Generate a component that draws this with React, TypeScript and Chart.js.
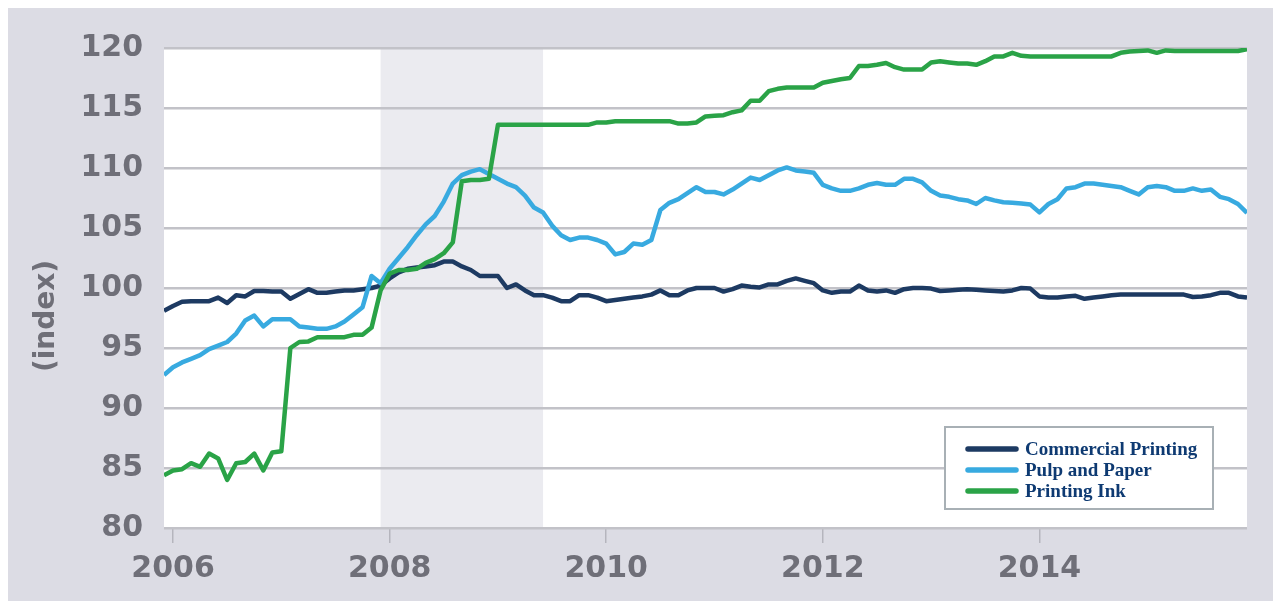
import React, { useEffect, useRef } from 'react';
import { Chart, registerables } from 'chart.js';

Chart.register(...registerables);

// Monthly index values, Dec 2005 .. Dec 2015
const START_YEAR = 2005;
const START_MONTH = 12;

const commercialPrinting = [
  98.1, 98.5, 98.85, 98.9, 98.9, 98.9, 99.2, 98.75, 99.4, 99.3,
  99.75, 99.75, 99.7, 99.7, 99.1, 99.5, 99.9, 99.6, 99.6, 99.7,
  99.8, 99.8, 99.9, 100.0, 100.2, 100.8, 101.3, 101.6, 101.7, 101.8,
  101.9, 102.2, 102.2, 101.8, 101.5, 101.0, 101.0, 101.0, 100.0, 100.3,
  99.8, 99.4, 99.4, 99.2, 98.9, 98.9, 99.4, 99.4, 99.2, 98.9,
  99.0, 99.1, 99.2, 99.3, 99.45, 99.8, 99.4, 99.4, 99.8, 100.0,
  100.0, 100.0, 99.7, 99.9, 100.2, 100.1, 100.05, 100.3, 100.3, 100.6,
  100.8, 100.6, 100.4, 99.8, 99.6, 99.7, 99.7, 100.2, 99.8, 99.7,
  99.8, 99.6, 99.9, 100.0, 100.0, 99.95, 99.75, 99.8, 99.85, 99.9,
  99.85, 99.8, 99.75, 99.7, 99.8, 100.0, 99.95, 99.3, 99.2, 99.2,
  99.3, 99.35, 99.1, 99.2, 99.3, 99.4, 99.45, 99.45, 99.45, 99.45,
  99.45, 99.45, 99.45, 99.45, 99.25, 99.3, 99.4, 99.6, 99.6, 99.3,
  99.2,
];

const pulpAndPaper = [
  92.75, 93.4, 93.8, 94.1, 94.4, 94.9, 95.2, 95.5, 96.2, 97.3,
  97.7, 96.8, 97.4, 97.4, 97.4, 96.8, 96.7, 96.6, 96.6, 96.8,
  97.2, 97.8, 98.4, 101.0, 100.4, 101.6, 102.5, 103.4, 104.4, 105.3,
  106.0, 107.2, 108.7, 109.4, 109.7, 109.9, 109.5, 109.1, 108.7, 108.4,
  107.7, 106.7, 106.3, 105.2, 104.4, 104.0, 104.2, 104.2, 104.0, 103.7,
  102.8, 103.0, 103.7, 103.6, 104.0, 106.5, 107.1, 107.4, 107.9, 108.4,
  108.0, 108.0, 107.8, 108.2, 108.7, 109.2, 109.0, 109.4, 109.8, 110.05,
  109.8, 109.7, 109.6, 108.6, 108.3, 108.1, 108.1, 108.3, 108.6, 108.75,
  108.6, 108.6, 109.1, 109.1, 108.8, 108.1, 107.7, 107.6, 107.4, 107.3,
  107.0, 107.5, 107.3, 107.15, 107.1, 107.05, 106.95, 106.3, 107.0, 107.4,
  108.3, 108.4, 108.7, 108.7, 108.6, 108.5, 108.4, 108.1, 107.8, 108.4,
  108.5, 108.4, 108.1, 108.1, 108.3, 108.1, 108.2, 107.6, 107.4, 107.0,
  106.25,
];

const printingInk = [
  84.4, 84.8, 84.9, 85.4, 85.1, 86.2, 85.8, 84.0, 85.4, 85.5,
  86.2, 84.8, 86.3, 86.4, 95.0, 95.5, 95.55, 95.9, 95.9, 95.9,
  95.9, 96.1, 96.1, 96.7, 99.8, 101.2, 101.5, 101.5, 101.6, 102.1,
  102.4, 102.9, 103.8, 108.9, 109.0, 109.0, 109.1, 113.6, 113.6, 113.6,
  113.6, 113.6, 113.6, 113.6, 113.6, 113.6, 113.6, 113.6, 113.8, 113.8,
  113.9, 113.9, 113.9, 113.9, 113.9, 113.9, 113.9, 113.7, 113.7, 113.8,
  114.3, 114.35, 114.4, 114.65, 114.8, 115.6, 115.6, 116.4, 116.6, 116.7,
  116.7, 116.7, 116.7, 117.1, 117.25, 117.4, 117.5, 118.5, 118.5, 118.6,
  118.75, 118.4, 118.2, 118.2, 118.2, 118.8, 118.9, 118.8, 118.7, 118.7,
  118.6, 118.9, 119.3, 119.3, 119.6, 119.35, 119.3, 119.3, 119.3, 119.3,
  119.3, 119.3, 119.3, 119.3, 119.3, 119.3, 119.6, 119.7, 119.75, 119.8,
  119.6, 119.8, 119.75, 119.75, 119.75, 119.75, 119.75, 119.75, 119.75, 119.75,
  119.9,
];

const seriesNames = ['Commercial Printing', 'Pulp and Paper', 'Printing Ink'];
const seriesColors = ['#1d3a62', '#38aae0', '#2aa347'];

const xTickYears = [2006, 2008, 2010, 2012, 2014];
const yMin = 80;
const yMax = 120;
const yStep = 5;

// Recession: Dec 2007 - Jun 2009
const recessionStart = 2007 + 11 / 12;
const recessionEnd = 2009 + 5 / 12;

const yTitle = '(index)';

const monthX = commercialPrinting.map((_, i) => START_YEAR + (START_MONTH - 1 + i) / 12);
const toPoints = (vals: number[]) => vals.map((v, i) => ({ x: monthX[i], y: v }));

const TICK_COLOR = '#6f6f78';
const TICK_FONT = 'DejaVu Sans';

const backgroundPlugin = {
  id: 'bgRecession',
  beforeDraw(chart: any) {
    const { ctx, chartArea, scales } = chart;
    ctx.save();
    ctx.fillStyle = '#ffffff';
    ctx.fillRect(chartArea.left, chartArea.top, chartArea.right - chartArea.left, chartArea.bottom - chartArea.top);
    const x0 = scales.x.getPixelForValue(recessionStart);
    const x1 = scales.x.getPixelForValue(recessionEnd);
    ctx.fillStyle = '#ebebf0';
    ctx.fillRect(x0, chartArea.top, x1 - x0, chartArea.bottom - chartArea.top);
    ctx.restore();
  },
};

const titlePlugin = {
  id: 'yTitle',
  afterDraw(chart: any) {
    const { ctx, chartArea } = chart;
    ctx.save();
    ctx.translate(chartArea.left - 117, chartArea.top + 268);
    ctx.rotate(-Math.PI / 2);
    ctx.font = `bold 28px "${TICK_FONT}"`;
    ctx.fillStyle = TICK_COLOR;
    ctx.textAlign = 'center';
    ctx.textBaseline = 'middle';
    ctx.fillText(yTitle, 0, 0);
    ctx.restore();
  },
};

const legendPlugin = {
  id: 'boxLegend',
  afterDraw(chart: any) {
    const { ctx, chartArea } = chart;
    const w = 268;
    const h = 82;
    const right = chartArea.right - 34;
    const bottom = chartArea.bottom - 19;
    const left = right - w;
    const top = bottom - h;
    ctx.save();
    ctx.fillStyle = '#ffffff';
    ctx.fillRect(left, top, w, h);
    ctx.strokeStyle = '#a8b0b5';
    ctx.lineWidth = 2;
    ctx.strokeRect(left, top, w, h);
    ctx.font = 'bold 19px "Liberation Serif"';
    ctx.textBaseline = 'middle';
    ctx.textAlign = 'left';
    seriesNames.forEach((name, i) => {
      const y = top + 22 + i * 21;
      ctx.strokeStyle = seriesColors[i];
      ctx.lineWidth = 5.5;
      ctx.lineCap = 'round';
      ctx.beginPath();
      ctx.moveTo(left + 23, y);
      ctx.lineTo(left + 71, y);
      ctx.stroke();
      ctx.fillStyle = '#0e3a72';
      ctx.fillText(name, left + 80, y + 1);
    });
    ctx.restore();
  },
};

export default function App() {
  const canvasRef = useRef<HTMLCanvasElement | null>(null);

  useEffect(() => {
    document.body.style.overflow = 'hidden';
    const canvas = canvasRef.current;
    if (!canvas) return;
    const seriesValues = [commercialPrinting, pulpAndPaper, printingInk];
    const chart = new Chart(canvas, {
      type: 'line',
      data: {
        datasets: seriesValues.map((vals, i) => ({
          label: seriesNames[i],
          data: toPoints(vals),
          borderColor: seriesColors[i],
          backgroundColor: seriesColors[i],
          borderWidth: 4.5,
          pointRadius: 0,
          tension: 0,
          fill: false,
          order: 3 - i,
          borderJoinStyle: 'round' as const,
        })),
      },
      options: {
        animation: false,
        responsive: true,
        maintainAspectRatio: false,
        layout: { padding: { top: 42, right: 34, left: 0, bottom: 0 } },
        plugins: {
          legend: { display: false },
          tooltip: { enabled: false },
        },
        scales: {
          x: {
            type: 'linear',
            min: monthX[0],
            max: monthX[monthX.length - 1],
            afterBuildTicks(scale: any) {
              scale.ticks = xTickYears.map((v) => ({ value: v }));
            },
            afterFit(scale: any) {
              scale.height = 73;
            },
            grid: {
              drawOnChartArea: false,
              drawTicks: true,
              tickLength: 15,
              color: '#b5b5bd',
              lineWidth: 1.5,
            },
            border: { display: false },
            ticks: {
              padding: 8,
              autoSkip: false,
              maxRotation: 0,
              color: TICK_COLOR,
              font: { family: TICK_FONT, size: 30, weight: 'bold' },
              callback: (v: any) => String(v),
            },
          },
          y: {
            min: yMin,
            max: yMax,
            afterFit(scale: any) {
              scale.width = 157;
            },
            grid: {
              color: '#c2c2c8',
              lineWidth: 2.5,
              drawTicks: false,
            },
            border: { display: false },
            ticks: {
              stepSize: yStep,
              padding: 21,
              color: TICK_COLOR,
              font: { family: TICK_FONT, size: 30, weight: 'bold' },
              callback: (v: any) => String(v),
            },
          },
        },
      },
      plugins: [backgroundPlugin, titlePlugin, legendPlugin],
    });
    return () => chart.destroy();
  }, []);

  return (
    <div
      style={{
        position: 'relative',
        width: 1274,
        height: 595,
        marginTop: -2,
        marginLeft: -1,
        background: '#dcdce4',
      }}
    >
      <canvas ref={canvasRef} />
    </div>
  );
}
